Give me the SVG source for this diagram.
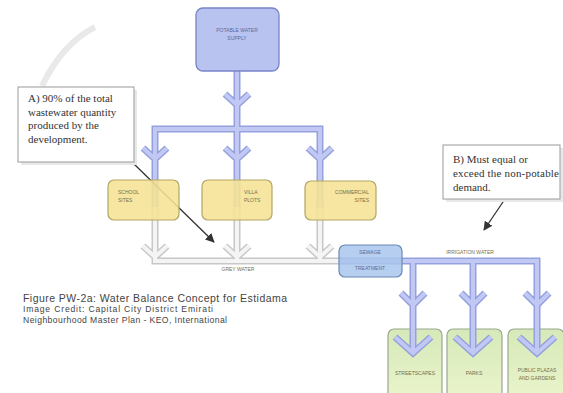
<svg xmlns="http://www.w3.org/2000/svg" width="563" height="393" viewBox="0 0 563 393">
<defs>
<style>
.po{fill:none;stroke:#95a1dc;stroke-width:7;stroke-linejoin:miter;stroke-linecap:butt}
.pi{fill:none;stroke:#c0c8f3;stroke-width:4;stroke-linejoin:miter;stroke-linecap:butt}
.go{fill:none;stroke:#c8c8c8;stroke-width:7;stroke-linejoin:miter}
.gi{fill:none;stroke:#f4f4f4;stroke-width:4;stroke-linejoin:miter}
.yb{fill:#f5e394;fill-opacity:0.88;stroke:#b3a565;stroke-width:1.2}
.gb{fill:url(#gg);stroke:#9aa88e;stroke-width:1.2}
.tiny{font-family:"Liberation Sans",Arial,sans-serif;font-size:5px;fill:#7a6f48}
.tinyb{font-family:"Liberation Sans",Arial,sans-serif;font-size:5px;fill:#5a6a9a}
.call{fill:#ffffff;stroke:#9a9a9a;stroke-width:1}
.ct{font-family:"Liberation Serif","Times New Roman",serif;font-size:11px;fill:#333}
.cap{font-family:"Liberation Sans",Arial,sans-serif;fill:#444}
.lead{stroke:#333;stroke-width:1.3;fill:none}
</style>
<linearGradient id="gg" x1="0" y1="0" x2="0" y2="1">
<stop offset="0" stop-color="#d6e9b8"/>
<stop offset="1" stop-color="#eaf4cc"/>
</linearGradient>
<marker id="ah" viewBox="0 0 10 10" refX="9" refY="5" markerWidth="7" markerHeight="7" orient="auto">
<path d="M0,0 L10,5 L0,10 z" fill="#333"/>
</marker>
</defs>
<rect width="563" height="393" fill="#ffffff"/>
<path d="M95,27 Q62,44 42,86" fill="none" stroke="#e9e9e9" stroke-width="6"/>

<g id="green-nodes">
<g id="streetscapes"><rect class="gb" x="388" y="329" width="54" height="70" rx="6"/><text class="tiny" x="415" y="375" text-anchor="middle">STREETSCAPES</text></g>
<g id="parks"><rect class="gb" x="447" y="329" width="55" height="70" rx="6"/><text class="tiny" x="474" y="375" text-anchor="middle">PARKS</text></g>
<g id="plazas"><rect class="gb" x="508" y="329" width="56" height="70" rx="6"/><text class="tiny" x="537" y="372" text-anchor="middle">PUBLIC PLAZAS</text><text class="tiny" x="537" y="380" text-anchor="middle">AND GARDENS</text></g>
</g>

<g id="connectors">
<g id="grey-pipes">
<path class="go" d="M155,205 V261 H345 M237,205 V261 M320,205 V261 M143,246 L155,257 L167,246 M225,246 L237,257 L249,246 M308,246 L320,257 L332,246"/>
<path class="gi" d="M155,205 V261 H345 M237,205 V261 M320,205 V261 M143,246 L155,257 L167,246 M225,246 L237,257 L249,246 M308,246 L320,257 L332,246"/>
</g>
<g id="blue-pipes">
<path class="po" d="M237,71 V129 M155,207 V129 H320 V207 M237,129 V207 M225,94 L237,105 L249,94 M143,148 L155,159 L167,148 M225,148 L237,159 L249,148 M308,148 L320,159 L332,148"/>
<path class="pi" d="M237,71 V129 M155,207 V129 H320 V207 M237,129 V207 M225,94 L237,105 L249,94 M143,148 L155,159 L167,148 M225,148 L237,159 L249,148 M308,148 L320,159 L332,148"/>
<path class="po" d="M340,261 H537 V354 M413,261 V354 M473,261 V354 M401,293 L413,305 L425,293 M461,293 L473,305 L485,293 M525,293 L537,305 L549,293 M395,337 L413,353 L431,337 M455,337 L473,353 L491,337 M519,337 L537,353 L555,337"/>
<path class="pi" d="M340,261 H537 V354 M413,261 V354 M473,261 V354 M401,293 L413,305 L425,293 M461,293 L473,305 L485,293 M525,293 L537,305 L549,293 M395,337 L413,353 L431,337 M455,337 L473,353 L491,337 M519,337 L537,353 L555,337"/>
</g>
<g id="leaders">
<line class="lead" x1="133" y1="163" x2="214" y2="242" marker-end="url(#ah)"/>
<circle cx="133" cy="163" r="2.2" fill="#333"/>
<line class="lead" x1="505" y1="199" x2="484" y2="230" marker-end="url(#ah)"/>
<circle cx="505" cy="199" r="2.2" fill="#333"/>
</g>
</g>

<g id="potable">
<rect x="196" y="8" width="83" height="63" rx="7" fill="#b9c3f0" stroke="#7884c6" stroke-width="1.3"/>
<text class="tinyb" x="237" y="32" text-anchor="middle">POTABLE WATER</text>
<text class="tinyb" x="237" y="40" text-anchor="middle">SUPPLY</text>
</g>
<g id="school"><rect class="yb" x="108" y="180" width="71" height="40" rx="6"/><text class="tiny" x="118" y="194">SCHOOL</text><text class="tiny" x="118" y="202">SITES</text></g>
<g id="villa"><rect class="yb" x="202" y="180" width="70" height="40" rx="6"/><text class="tiny" x="244" y="194">VILLA</text><text class="tiny" x="244" y="202">PLOTS</text></g>
<g id="commercial"><rect class="yb" x="305" y="181" width="71" height="39" rx="6"/><text class="tiny" x="369" y="194" text-anchor="end">COMMERCIAL</text><text class="tiny" x="369" y="202" text-anchor="end">SITES</text></g>
<g id="sewage">
<rect x="339" y="245" width="63" height="32" rx="6" fill="#a9c6ec" fill-opacity="0.85" stroke="#6a88b6" stroke-width="1.2"/>
<text class="tinyb" x="370" y="254" text-anchor="middle">SEWAGE</text>
<text class="tinyb" x="370" y="270" text-anchor="middle">TREATMENT</text>
</g>
<text class="tiny" x="238" y="271" text-anchor="middle" fill="#888">GREY WATER</text>
<text class="tiny" x="470" y="254" text-anchor="middle" fill="#888">IRRIGATION WATER</text>

<g id="callout-a">
<rect x="19" y="88" width="116" height="75" fill="#e8e8e8" transform="translate(2,2)"/>
<rect class="call" x="18" y="87" width="116" height="75"/>
<text class="ct" x="28" y="102">A) 90% of the total</text>
<text class="ct" x="28" y="116">wastewater quantity</text>
<text class="ct" x="28" y="129">produced by the</text>
<text class="ct" x="28" y="143">development.</text>
</g>
<g id="callout-b">
<rect x="444" y="146" width="118" height="54" fill="#e8e8e8" transform="translate(2,2)"/>
<rect class="call" x="443" y="145" width="117" height="54"/>
<text class="ct" x="453" y="163">B) Must equal or</text>
<text class="ct" x="453" y="177" textLength="106">exceed the non-potable</text>
<text class="ct" x="453" y="191">demand.</text>
</g>

<g id="caption">
<text class="cap" x="23" y="302" font-size="10.5" textLength="264">Figure PW-2a: Water Balance Concept for Estidama</text>
<text class="cap" x="23" y="312" font-size="8.6" textLength="190">Image Credit:  Capital City District Emirati</text>
<text class="cap" x="23" y="323" font-size="8.6" textLength="204">Neighbourhood Master Plan - KEO, International</text>
</g>
</svg>
